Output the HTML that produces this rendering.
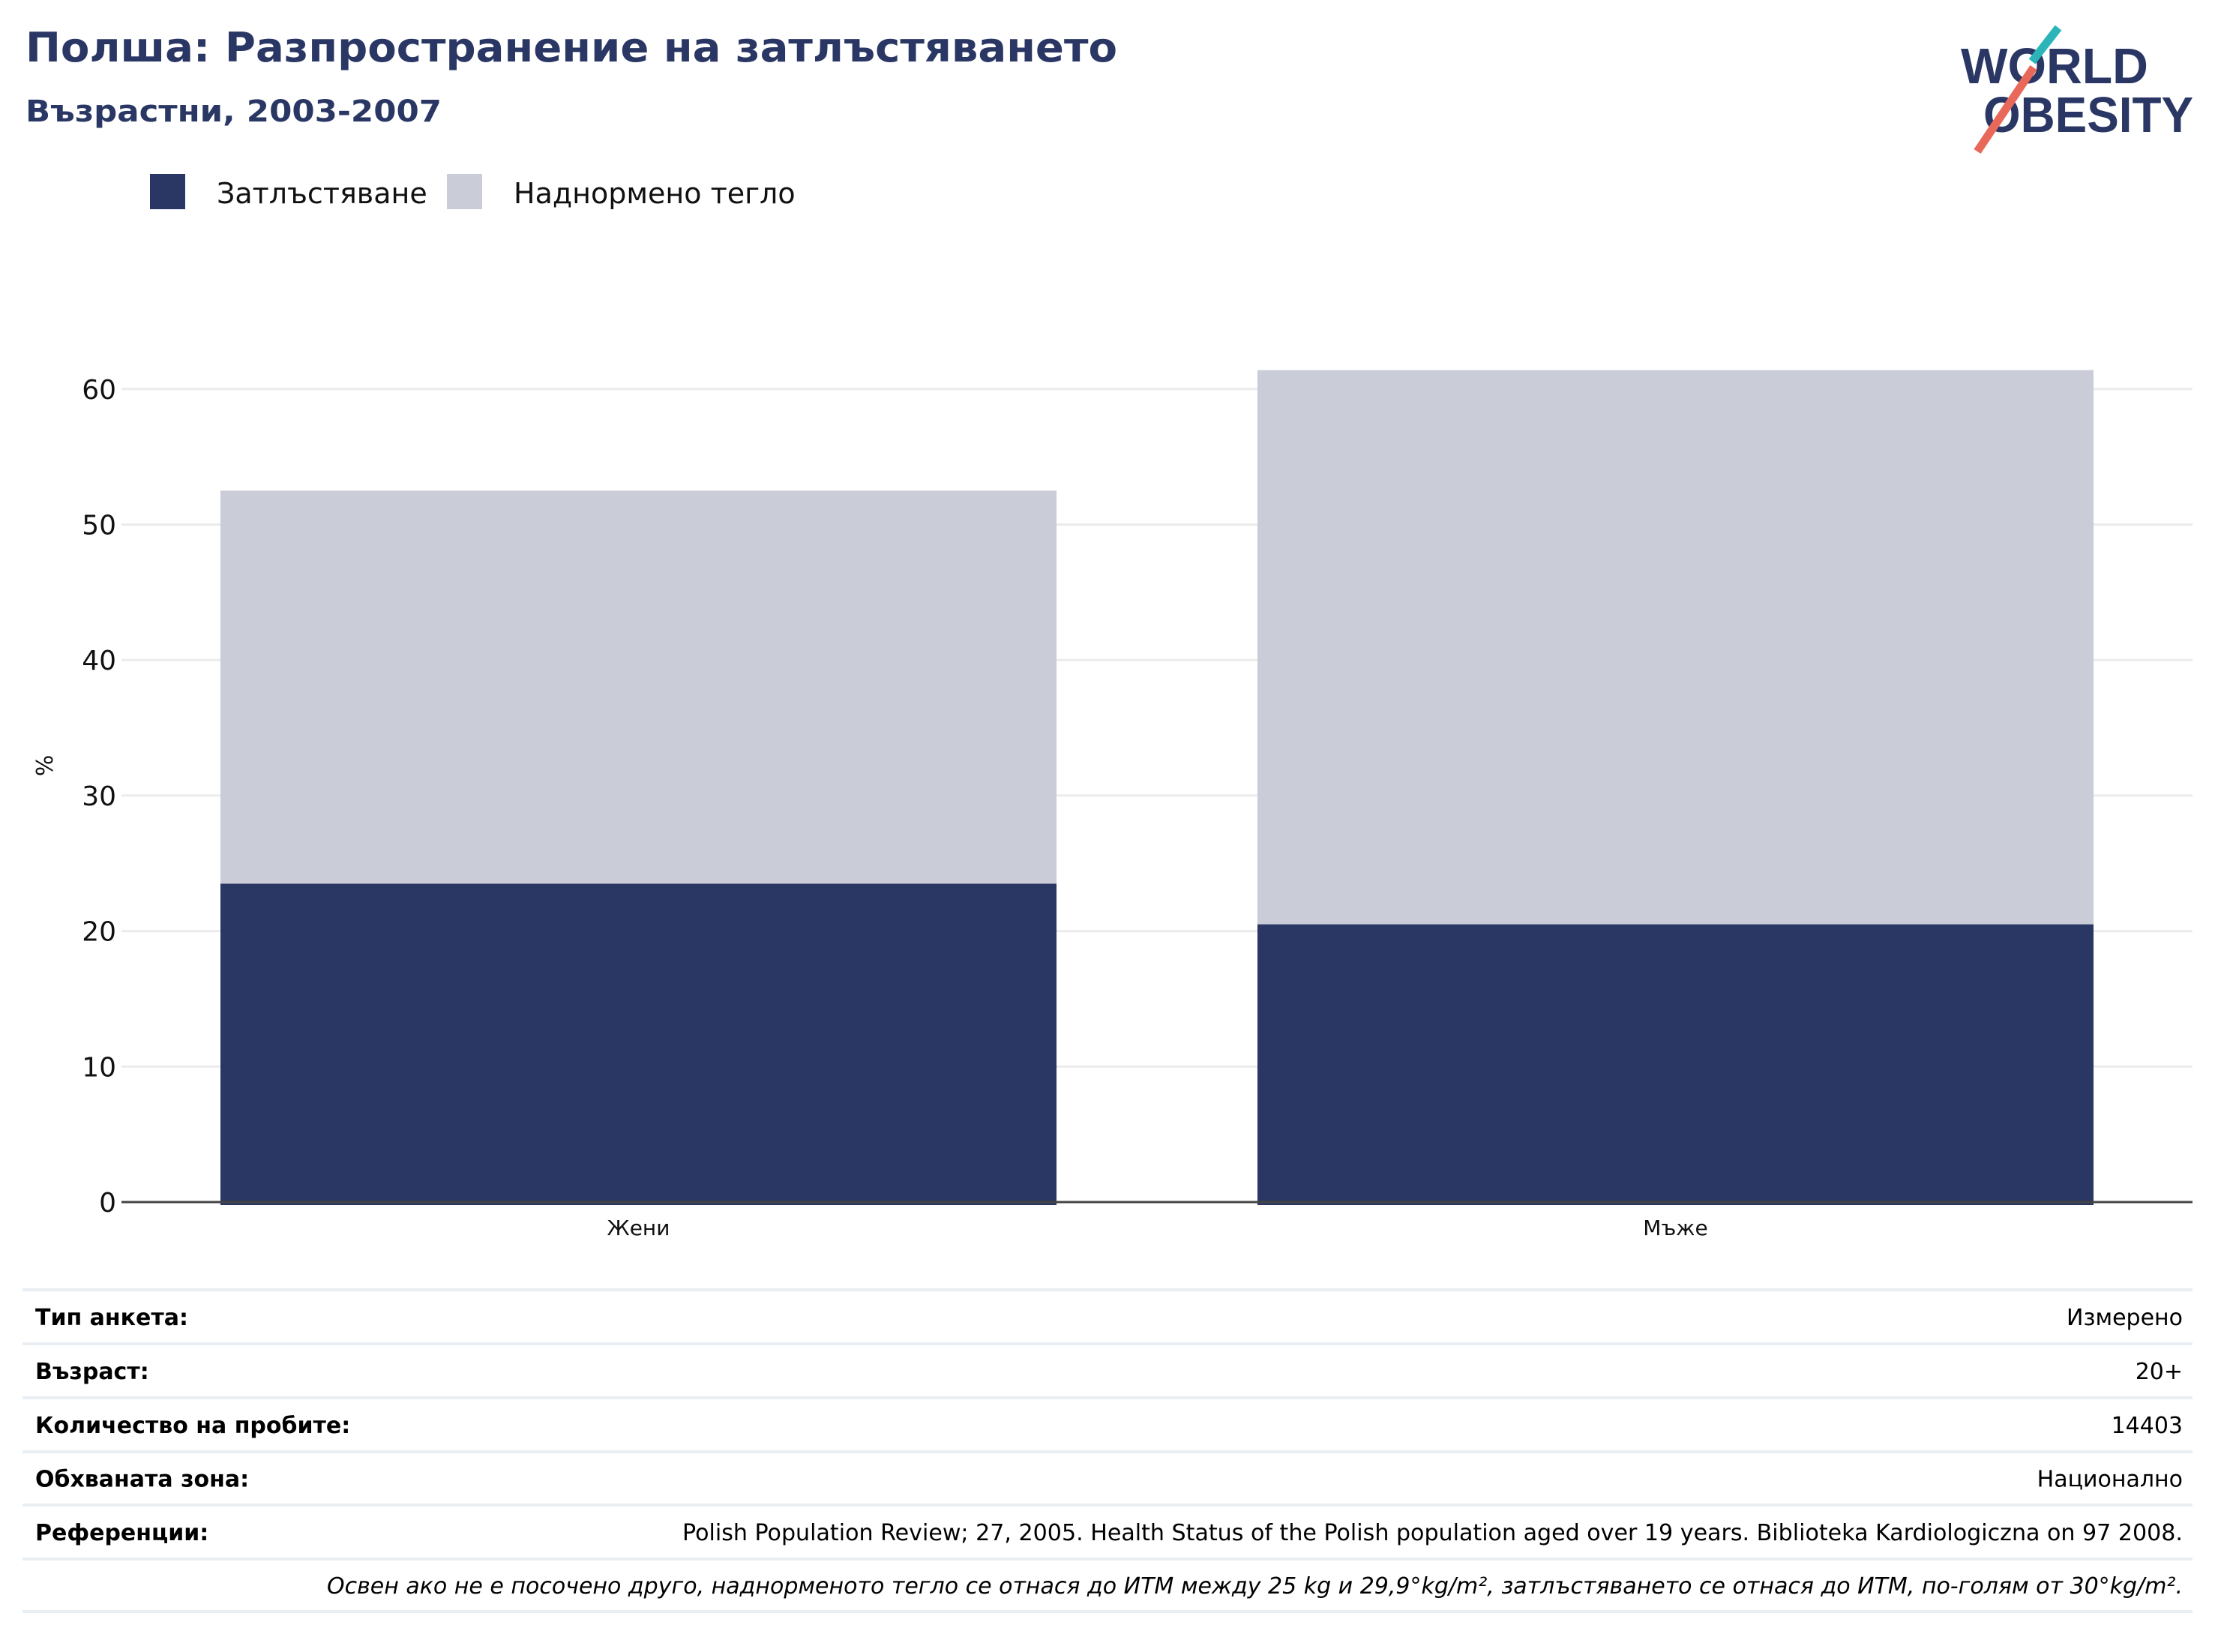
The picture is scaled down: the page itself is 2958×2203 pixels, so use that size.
<!DOCTYPE html>
<html><head><meta charset="utf-8"><style>
html,body{margin:0;padding:0;background:#fff;}
svg{display:block;font-family:"DejaVu Sans","Liberation Sans",sans-serif;}
</style></head><body>
<svg id="chart" width="2958" height="2203" viewBox="0 0 2958 2203" xmlns="http://www.w3.org/2000/svg">
<text x="34" y="82" font-size="54" font-weight="bold" fill="#2a3764" textLength="1456" lengthAdjust="spacingAndGlyphs">Полша: Разпространение на затлъстяването</text>
<text x="34" y="162" font-size="40" font-weight="bold" fill="#2a3764" textLength="555" lengthAdjust="spacingAndGlyphs">Възрастни, 2003-2007</text>
<g>
<text x="2615" y="111" font-size="67" font-weight="bold" fill="#2a3764" textLength="250" lengthAdjust="spacingAndGlyphs" font-family="Liberation Sans, sans-serif">WORLD</text>
<text x="2645" y="176" font-size="67" font-weight="bold" fill="#2a3764" textLength="280" lengthAdjust="spacingAndGlyphs" font-family="Liberation Sans, sans-serif">OBESITY</text>
<line x1="2745" y1="37" x2="2710" y2="82" stroke="#2bb5b8" stroke-width="11"/>
<line x1="2712" y1="90" x2="2637" y2="202" stroke="#e8685a" stroke-width="11"/>
</g>
<g>
<rect x="200" y="232" width="47" height="47" fill="#2a3764"/>
<text x="289" y="271" font-size="38" fill="#111">Затлъстяване</text>
<rect x="596" y="232" width="47" height="47" fill="#caccd8"/>
<text x="685" y="271" font-size="38" fill="#111">Наднормено тегло</text>
</g>
<g id="grid"></g>
<g id="bars"></g>
<g id="axes"></g>
<text transform="translate(70,1021) rotate(-90)" font-size="30" fill="#111" text-anchor="middle">%</text>
<g id="table" font-size="30" fill="#000"></g>
</svg>
<script>
const categories = ["Жени", "Мъже"];
const obesity = [23.5, 20.5];
const overweight = [29.0, 40.9];
const yTicks = [0, 10, 20, 30, 40, 50, 60];
const tableLabels = ["Тип анкета:", "Възраст:", "Количество на пробите:", "Обхваната зона:", "Референции:"];
const tableValues = ["Измерено", "20+", "14403", "Национално", "Polish Population Review; 27, 2005. Health Status of the Polish population aged over 19 years. Biblioteka Kardiologiczna on 97 2008."];
const footnote = "Освен ако не е посочено друго, наднорменото тегло се отнася до ИТМ между 25 kg и 29,9°kg/m², затлъстяването се отнася до ИТМ, по-голям от 30°kg/m².";

const NS = "http://www.w3.org/2000/svg";
const y0 = 1603, pxPerUnit = 18.07;
const yScale = v => y0 - v * pxPerUnit;
const plotL = 162, plotR = 2924, barStart = 294, barStep = 1383, barW = 1115;
const xScale = i => barStart + i * barStep;
function mk(tag, attrs, parent) {
  const e = document.createElementNS(NS, tag);
  for (const k in attrs) e.setAttribute(k, attrs[k]);
  parent.appendChild(e);
  return e;
}
const grid = document.getElementById('grid');
const axes = document.getElementById('axes');
const bars = document.getElementById('bars');
yTicks.forEach(t => {
  if (t !== 0) {
    const l = mk('line', {x1: plotL, x2: plotR, y1: yScale(t), y2: yScale(t), stroke: '#ebebeb', 'stroke-width': 3}, grid);
    
    
  }
  const tx = mk('text', {x: 155, y: yScale(t) + 13, 'font-size': 36, 'text-anchor': 'end', fill: '#111'}, axes);
  tx.textContent = t;
  
  
});
categories.forEach((c, i) => {
  const x = xScale(i);
  const b1 = mk('rect', {x: x, y: yScale(obesity[i]), width: barW, height: y0 + 4 - yScale(obesity[i]), fill: '#2a3764'}, bars);
  
  
  const top = obesity[i] + overweight[i];
  const b2 = mk('rect', {x: x, y: yScale(top), width: barW, height: yScale(obesity[i]) - yScale(top), fill: '#caccd8'}, bars);
  
  
  const lb = mk('text', {x: x + barW / 2, y: 1647, 'font-size': 28, 'text-anchor': 'middle', fill: '#111'}, axes);
  lb.textContent = c;
  
  
});
const ax = mk('line', {x1: plotL, x2: plotR, y1: y0, y2: y0, stroke: '#444', 'stroke-width': 3}, axes);



const table = document.getElementById('table');
const lineYs = [1720, 1792, 1864, 1936, 2007, 2079, 2149];
lineYs.forEach((ly, k) => {
  const l = mk('line', {x1: 30, x2: 2924, y1: ly, y2: ly, stroke: '#e9eef3', 'stroke-width': 4}, table);
  
  
});
tableLabels.forEach((lab, k) => {
  const cy = (lineYs[k] + lineYs[k + 1]) / 2 + 11;
  const a = mk('text', {x: 47, y: cy, 'font-weight': 'bold'}, table);
  a.textContent = lab;
  
  
  const attrs = {x: 2911, y: cy, 'text-anchor': 'end'};
  if (k === 4) { attrs.textLength = 2001; attrs.lengthAdjust = 'spacingAndGlyphs'; }
  const b = mk('text', attrs, table);
  b.textContent = tableValues[k];
  
  
});
const fn = mk('text', {x: 2911, y: 2125, 'text-anchor': 'end', 'font-style': 'italic', textLength: 2475, lengthAdjust: 'spacingAndGlyphs'}, table);
fn.textContent = footnote;


</script>
</body></html>
